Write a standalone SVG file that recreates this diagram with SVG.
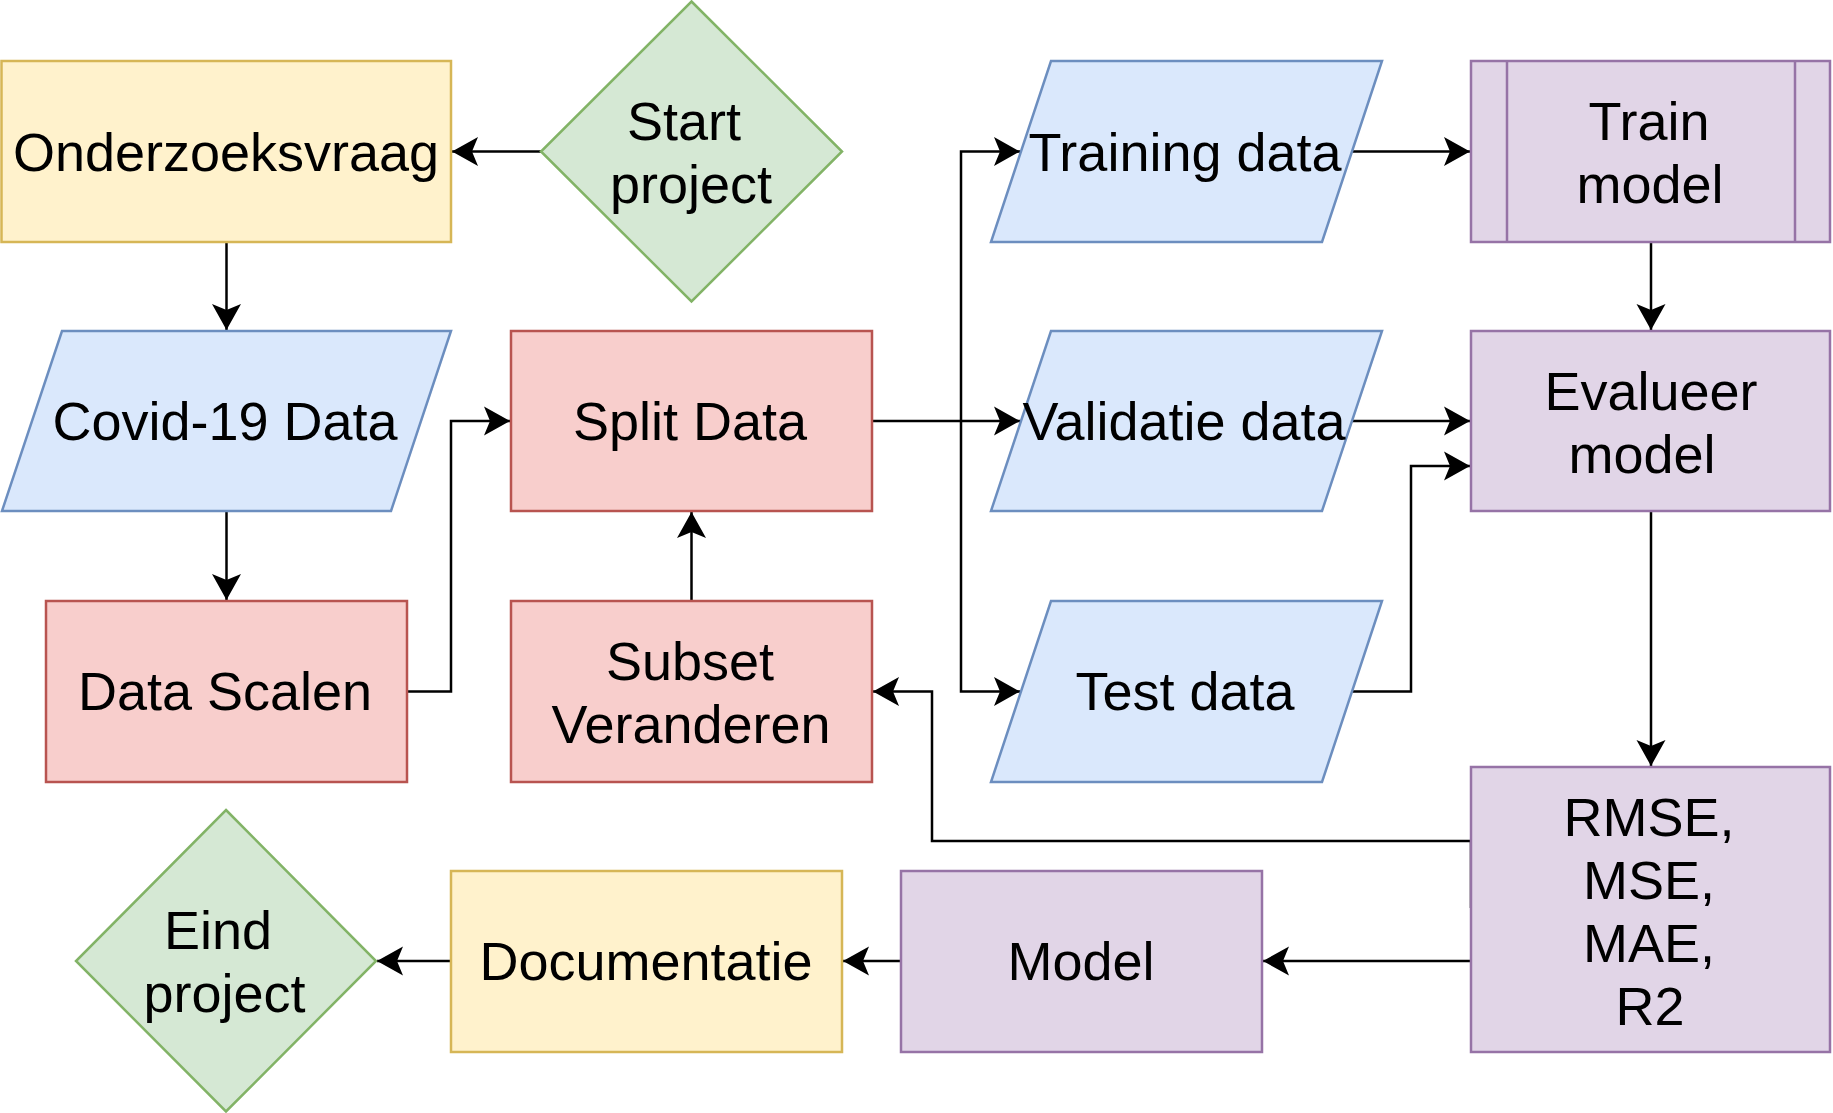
<svg xmlns="http://www.w3.org/2000/svg" width="1833" height="1113" viewBox="0 0 1833 1113">
<defs>
<marker id="arr" markerUnits="userSpaceOnUse" viewBox="-27 -16 29 32" refX="0" refY="0" markerWidth="29" markerHeight="32" orient="auto">
<path d="M0,0 L-26,-14.5 L-20,0 L-26,14.5 Z" fill="#000"/>
</marker>
</defs>
<style>
.yel{fill:#fff2cc;stroke:#d6b656;stroke-width:2.5}
.grn{fill:#d5e8d4;stroke:#82b366;stroke-width:2.5}
.blu{fill:#dae8fc;stroke:#6c8ebf;stroke-width:2.5}
.red{fill:#f8cecc;stroke:#b85450;stroke-width:2.5}
.pur{fill:#e1d5e7;stroke:#9673a6;stroke-width:2.5}
text{font-family:"Liberation Sans",Arial,Helvetica,sans-serif;font-size:54px;fill:#000;text-anchor:middle}
.edge{fill:none;stroke:#000;stroke-width:2.5;marker-end:url(#arr)}
</style>
<rect width="1833" height="1113" fill="#fff"/>
<g id="connectors">
<path class="edge" d="M541,151.5 L452,151.5"/>
<path class="edge" d="M226.5,242 L226.5,330"/>
<path class="edge" d="M226.5,511 L226.5,600"/>
<path class="edge" d="M407,691.5 L451,691.5 L451,421 L510,421"/>
<path class="edge" d="M691.5,601 L691.5,512"/>
<path class="edge" d="M872,421 L1020,421"/>
<path class="edge" d="M961,421 L961,151.5 L1020,151.5"/>
<path class="edge" d="M961,421 L961,691.5 L1020,691.5"/>
<path class="edge" d="M1352,151.5 L1470,151.5"/>
<path class="edge" d="M1352,421 L1470,421"/>
<path class="edge" d="M1352,691.5 L1411,691.5 L1411,466 L1470,466"/>
<path class="edge" d="M1651,242 L1651,330"/>
<path class="edge" d="M1651,511 L1651,766"/>
<path class="edge" d="M1471,908 L1471,841 L932,841 L932,691.5 L873,691.5"/>
<path class="edge" d="M1471,961 L1263,961"/>
<path class="edge" d="M901,961 L843,961"/>
<path class="edge" d="M451,961 L377,961"/>
</g>
<g id="onderzoeksvraag">
<rect class="yel" x="1.5" y="61" width="449.5" height="181"/>
<text x="226" y="171">Onderzoeksvraag</text>
</g>
<g id="start-project">
<polygon class="grn" points="691.5,1.5 842,151.5 691.5,301.5 541,151.5"/>
<text x="684" y="140">Start</text>
<text x="691" y="203">project</text>
</g>
<g id="covid-data">
<polygon class="blu" points="62,331 451,331 391,511 2,511"/>
<text x="225" y="440">Covid-19 Data</text>
</g>
<g id="split-data">
<rect class="red" x="511" y="331" width="361" height="180"/>
<text x="690" y="440">Split Data</text>
</g>
<g id="data-scalen">
<rect class="red" x="46" y="601" width="361" height="181"/>
<text x="225" y="710">Data Scalen</text>
</g>
<g id="subset-veranderen">
<rect class="red" x="511" y="601" width="361" height="181"/>
<text x="690" y="680">Subset</text>
<text x="691" y="743">Veranderen</text>
</g>
<g id="eind-project">
<polygon class="grn" points="226,810 376,961 226,1111.5 76,961"/>
<text x="218" y="949">Eind</text>
<text x="224.5" y="1012">project</text>
</g>
<g id="documentatie">
<rect class="yel" x="451" y="871" width="391" height="181"/>
<text x="646" y="980">Documentatie</text>
</g>
<g id="model">
<rect class="pur" x="901" y="871" width="361" height="181"/>
<text x="1081" y="980">Model</text>
</g>
<g id="metrics">
<rect class="pur" x="1471" y="767" width="359" height="285"/>
<text x="1649" y="836">RMSE,</text>
<text x="1649" y="899">MSE,</text>
<text x="1649" y="962">MAE,</text>
<text x="1650" y="1025">R2</text>
</g>
<g id="training-data">
<polygon class="blu" points="1051,61 1382,61 1322,242 991,242"/>
<text x="1185" y="171">Training data</text>
</g>
<g id="validatie-data">
<polygon class="blu" points="1051,331 1382,331 1322,511 991,511"/>
<text x="1184" y="440">Validatie data</text>
</g>
<g id="test-data">
<polygon class="blu" points="1051,601 1382,601 1322,782 991,782"/>
<text x="1185" y="710">Test data</text>
</g>
<g id="train-model">
<rect class="pur" x="1471" y="61" width="359" height="181"/>
<line class="pur" x1="1507" y1="61" x2="1507" y2="242"/>
<line class="pur" x1="1795" y1="61" x2="1795" y2="242"/>
<text x="1649" y="140">Train</text>
<text x="1650" y="203">model</text>
</g>
<g id="evalueer-model">
<rect class="pur" x="1471" y="331" width="359" height="180"/>
<text x="1651" y="410">Evalueer</text>
<text x="1642" y="473">model</text>
</g>
</svg>
